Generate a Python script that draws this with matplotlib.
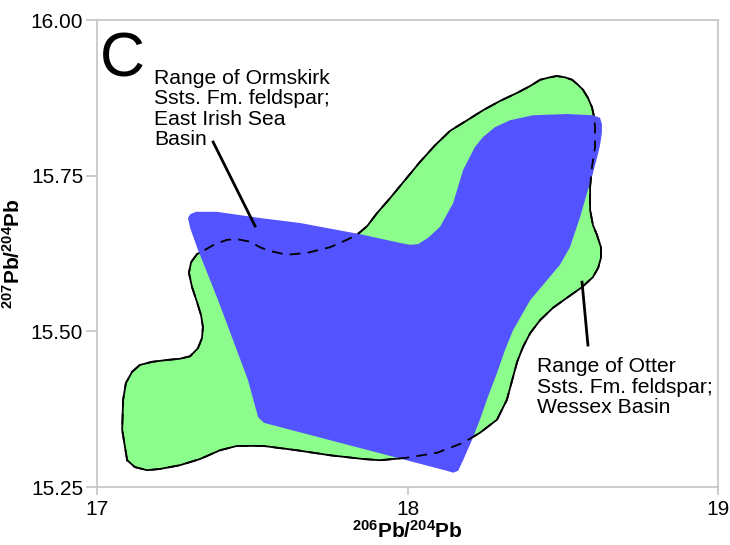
import matplotlib
matplotlib.use("Agg")
import matplotlib.pyplot as plt

plt.rcParams['font.family'] = ['Liberation Sans', 'DejaVu Sans']
plt.rcParams['mathtext.fontset'] = 'custom'
plt.rcParams['mathtext.rm'] = 'Liberation Sans'
plt.rcParams['mathtext.bf'] = 'Liberation Sans:bold'

# Otter Ssts. Fm. feldspar field (Wessex Basin), outline
otter_x = [17.097, 17.081, 17.084, 17.093, 17.113, 17.138, 17.177, 17.225, 17.267, 17.300,
           17.325, 17.338, 17.341, 17.335, 17.322, 17.306, 17.296, 17.303, 17.322, 17.348,
           17.380, 17.419, 17.451, 17.493, 17.525, 17.557, 17.612, 17.676, 17.750, 17.805,
           17.837, 17.870, 17.902, 17.944, 17.992, 18.040, 18.089, 18.137, 18.192, 18.243,
           18.298, 18.353, 18.395, 18.427, 18.459, 18.481, 18.507, 18.530, 18.549, 18.565,
           18.581, 18.594, 18.601, 18.604, 18.604, 18.594, 18.588, 18.588, 18.597, 18.610,
           18.623, 18.623, 18.614, 18.597, 18.562, 18.514, 18.469, 18.427, 18.395, 18.372,
           18.353, 18.340, 18.320, 18.288, 18.233, 18.179, 18.095, 17.998, 17.911, 17.857,
           17.750, 17.644, 17.535, 17.451, 17.396, 17.332, 17.267, 17.203, 17.161, 17.122]
otter_y = [15.293, 15.342, 15.390, 15.417, 15.435, 15.446, 15.451, 15.454, 15.456, 15.460,
           15.473, 15.489, 15.507, 15.526, 15.547, 15.571, 15.594, 15.611, 15.624, 15.631,
           15.640, 15.647, 15.648, 15.644, 15.635, 15.629, 15.623, 15.626, 15.635, 15.647,
           15.655, 15.669, 15.690, 15.714, 15.743, 15.772, 15.799, 15.822, 15.839, 15.855,
           15.870, 15.883, 15.894, 15.904, 15.908, 15.910, 15.908, 15.904, 15.896, 15.888,
           15.875, 15.860, 15.844, 15.828, 15.796, 15.764, 15.732, 15.695, 15.671, 15.655,
           15.635, 15.618, 15.602, 15.587, 15.571, 15.554, 15.538, 15.518, 15.497, 15.475,
           15.451, 15.427, 15.390, 15.358, 15.337, 15.321, 15.305, 15.297, 15.293, 15.295,
           15.301, 15.309, 15.316, 15.316, 15.309, 15.295, 15.285, 15.279, 15.277, 15.282]

# Ormskirk Ssts. Fm. feldspar field (East Irish Sea Basin)
orm_x = [17.293, 17.300, 17.319, 17.386, 17.525, 17.654, 17.847, 17.976, 18.008, 18.034,
         18.066, 18.105, 18.147, 18.179, 18.217, 18.243, 18.282, 18.330, 18.404, 18.514,
         18.597, 18.620, 18.626, 18.626, 18.620, 18.614, 18.597, 18.578, 18.556, 18.523,
         18.491, 18.449, 18.395, 18.340, 18.314, 18.288, 18.259, 18.233, 18.208, 18.179,
         18.163, 18.147, 18.127, 17.538, 17.519, 17.486, 17.390, 17.322, 17.300]
orm_y = [15.682, 15.688, 15.692, 15.692, 15.682, 15.674, 15.656, 15.642, 15.639, 15.640,
         15.650, 15.668, 15.706, 15.759, 15.796, 15.812, 15.828, 15.839, 15.847, 15.849,
         15.847, 15.843, 15.833, 15.819, 15.799, 15.786, 15.754, 15.722, 15.684, 15.635,
         15.607, 15.582, 15.550, 15.502, 15.470, 15.433, 15.395, 15.358, 15.326, 15.293,
         15.276, 15.273, 15.276, 15.353, 15.362, 15.422, 15.550, 15.635, 15.666]

orm_label = "Range of Ormskirk\nSsts. Fm. feldspar;\nEast Irish Sea\nBasin"
otter_label = "Range of Otter\nSsts. Fm. feldspar;\nWessex Basin"
orm_leader_x, orm_leader_y = [17.374, 17.509], [15.804, 15.669]
otter_leader_x, otter_leader_y = [18.562, 18.581], [15.579, 15.478]

fig = plt.figure(figsize=(7.3, 5.45), dpi=100)
ax = fig.add_axes([0.1329, 0.1064, 0.8507, 0.8569])

ox = otter_x + otter_x[:1]
oy = otter_y + otter_y[:1]
ax.fill(otter_x, otter_y, color='#8cfc8c', lw=0, zorder=1)
ax.plot(ox, oy, color='black', lw=1.3, zorder=2)
ax.fill(orm_x, orm_y, color='#5353ff', lw=0, zorder=3)
ax.plot(ox, oy, color='black', lw=1.3, ls=(0, (6, 4)), zorder=4)

ax.plot(orm_leader_x, orm_leader_y, color='black', lw=2, zorder=5)
ax.plot(otter_leader_x, otter_leader_y, color='black', lw=2, zorder=5)

ax.text(17.010, 15.983, "C", fontsize=45, va='top', ha='left')
ax.text(17.184, 15.922, orm_label, fontsize=15.2, va='top', ha='left', linespacing=1.1)
ax.text(18.417, 15.458, otter_label, fontsize=15.2, va='top', ha='left', linespacing=1.1)

ax.set_xlim(17, 19)
ax.set_ylim(15.25, 16.00)
ax.set_xticks([17, 18, 19])
ax.set_yticks([15.25, 15.50, 15.75, 16.00])
ax.set_yticklabels(['15.25', '15.50', '15.75', '16.00'])
for s in ax.spines.values():
    s.set_color('#c4c4c4')
    s.set_linewidth(1.2)
ax.tick_params(axis='both', direction='out', color='#c4c4c4', width=1.2, labelsize=15)
ax.tick_params(axis='y', length=8, pad=2)
ax.tick_params(axis='x', length=6, pad=3)

ax.set_xlabel(r'$\mathbf{^{206}Pb/^{204}Pb}$', fontsize=15, labelpad=1)
ax.set_ylabel(r'$\mathbf{^{207}Pb/^{204}Pb}$', fontsize=15, labelpad=5)

fig.savefig('out.png', dpi=100)
